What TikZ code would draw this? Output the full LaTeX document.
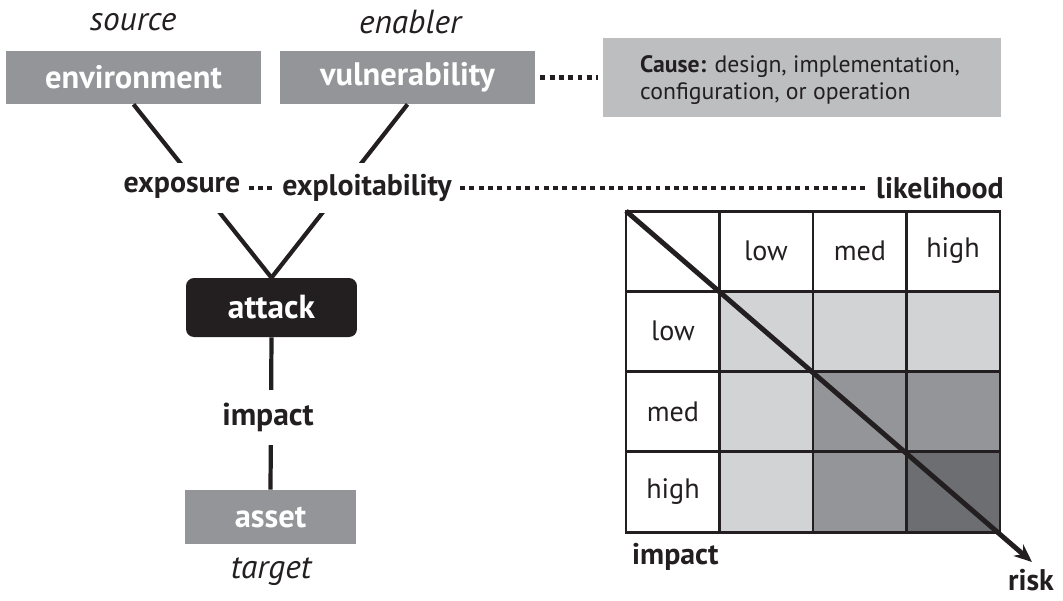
\documentclass[tikz,border=0pt]{standalone}
\usepackage{fontspec}
\setmainfont{PT Sans}
\usepackage{tikz}
\usetikzlibrary{arrows.meta}

\definecolor{ink}{HTML}{231F20}
\definecolor{boxgray}{HTML}{939598}
\definecolor{causegray}{HTML}{BCBEC0}
\definecolor{lightcell}{HTML}{D1D3D4}
\definecolor{midcell}{HTML}{939598}
\definecolor{darkcell}{HTML}{6D6E71}

\tikzset{
	graybox/.style={fill=boxgray, text=white, inner sep=0pt, font=\bfseries\fontsize{18.5}{21}\selectfont},
	blackbox/.style={fill=ink, text=white, rounded corners=0.16cm, inner sep=0pt, font=\bfseries\fontsize{19}{21}\selectfont},
	role/.style={text=ink, font=\itshape\fontsize{19}{22}\selectfont},
	factor/.style={fill=white, text=ink, inner xsep=0.16cm, inner ysep=0pt, font=\bfseries\fontsize{17}{20}\selectfont},
	cell/.style={text=ink, font=\fontsize{16}{19}\selectfont},
	axis/.style={text=ink, font=\bfseries\fontsize{17}{20}\selectfont},
	link/.style={draw=ink, line width=2.4pt},
	dotted link/.style={draw=ink, line width=2.3pt, dash pattern=on 2.8pt off 2.5pt},
	riskarrow/.style={draw=ink, line width=2.8pt, -{Stealth[length=0.36cm, width=0.3cm]}}
}

\begin{document}
\begin{tikzpicture}[x=0.02cm, y=-0.02cm]
	\useasboundingbox (0,0) rectangle (1063,600);

	\node[role] (source) at (133,22) {source};
	\node[role] (enabler) at (410,22) {enabler};
	\node[graybox, minimum width=5.1cm, minimum height=1.06cm] (env) at (133.5,77.5) {environment};
	\node[graybox, minimum width=5.1cm, minimum height=1.06cm] (vuln) at (407.5,77.5) {vulnerability};
	\node[fill=causegray, text=ink, minimum width=7.96cm, minimum height=1.58cm] (cause) at (802,77.5) {};
	\node[text=ink, anchor=west, align=left, font=\fontsize{13.5}{15.5}\selectfont] (causetext) at (634,80) {\textbf{Cause:} design, implementation,\\configuration, or operation};

	\node[blackbox, minimum width=3.42cm, minimum height=1.18cm] (attack) at (271.5,307.5) {attack};
	\node[graybox, minimum width=3.42cm, minimum height=1.08cm] (asset) at (270.5,517) {asset};
	\node[role] (target) at (271,572) {target};

	%LINES

	\draw[link] (env.south) -- (attack.north);
	\draw[link] (vuln.south) -- (attack.north);
	\draw[link] (attack.south) -- (asset.north);

	\node[factor, minimum height=1cm] (expo) at (182,188) {exposure};
	\node[factor, minimum height=1cm] (exploit) at (367,188) {exploitability};
	\node[factor, minimum height=1.1cm, font=\bfseries\fontsize{18}{21}\selectfont] (impact) at (268,417) {impact};
	\node[factor] (likely) at (940,188) {likelihood};

	\draw[dotted link] (expo.east) -- (exploit.west);
	\draw[dotted link] (exploit.east) -- (likely.west);
	\draw[dotted link, shorten <=0.1cm, shorten >=0.1cm] (vuln.east) -- (cause.west);

	%MATRIX

	\fill[lightcell] (719.5,291.25) rectangle (1000,371.5);
	\fill[lightcell] (719.5,371.5) rectangle (813,532);
	\fill[midcell] (813,371.5) rectangle (1000,451.75);
	\fill[midcell] (813,451.75) rectangle (906.5,532);
	\fill[darkcell] (906.5,451.75) rectangle (1000,532);
	\draw[ink, line width=1.7pt] (626,211) rectangle (1000,532);
	\draw[ink, line width=1.7pt] (719.5,211) -- (719.5,532) (813,211) -- (813,532) (906.5,211) -- (906.5,532);
	\draw[ink, line width=1.7pt] (626,291.25) -- (1000,291.25) (626,371.5) -- (1000,371.5) (626,451.75) -- (1000,451.75);

	\node[cell] (lowcol) at (766,251) {low};
	\node[cell] (medcol) at (860,251) {med};
	\node[cell] (highcol) at (953,251) {high};
	\node[cell] (lowrow) at (673,331) {low};
	\node[cell] (medrow) at (673,412) {med};
	\node[cell] (highrow) at (673,492) {high};

	\coordinate (corner) at (626,211);
	\coordinate (riskend) at (1032,562);
	\draw[riskarrow] (corner) -- (riskend);

	\node[axis, anchor=west] (impactaxis) at (626,557) {impact};
	\node[axis, anchor=base east, inner sep=1pt] (risk) at (1056,590) {risk};
\end{tikzpicture}
\end{document}
